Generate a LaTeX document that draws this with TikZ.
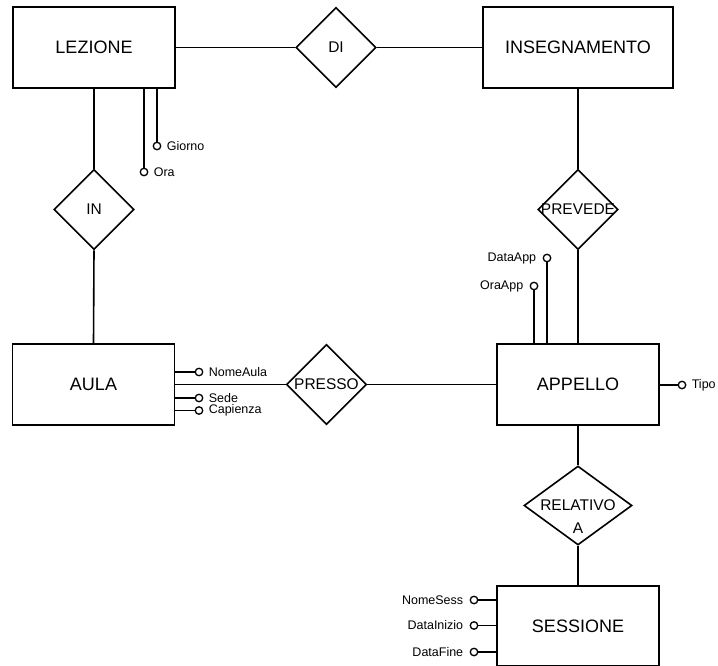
\documentclass[tikz,border=0pt]{standalone}
\usepackage{fontspec}
\setmainfont{Liberation Sans}
\usetikzlibrary{shapes.geometric}
\begin{document}
\begin{tikzpicture}[x=1pt,y=-1pt,
  line width=1.6pt,
  entity/.style={draw, rectangle, minimum width=162pt, minimum height=81pt, inner sep=0pt,
    line width=1.8pt, font=\fontsize{18}{20}\selectfont},
  rel/.style={draw, diamond, minimum width=80pt, minimum height=80pt, inner sep=0pt},
  reltext/.style={font=\fontsize{15.5}{23}\selectfont, inner sep=0pt},
  attr/.style={draw, circle, fill=white, minimum size=7.5pt, inner sep=0pt, line width=1.3pt},
  attrtext/.style={font=\fontsize{12.5}{14}\selectfont, inner sep=0pt},
]
\useasboundingbox (0,0) rectangle (718,666);

% entities
\node[entity] (lezione) at (94,47.5) {LEZIONE};
\node[entity, minimum width=190pt] (insegnamento) at (578,47.5) {INSEGNAMENTO};
\node[entity] (aula) at (93.5,384.5) {AULA};
\node[entity] (appello) at (578,384.5) {APPELLO};
\node[entity, minimum height=80pt] (sessione) at (578,626) {SESSIONE};

% relationships
\node[rel, label={[reltext]center:DI}] (di) at (336,47.5) {};
\node[rel, label={[reltext]center:IN}] (in) at (94,209.5) {};
\node[rel, label={[reltext]center:PREVEDE}] (prevede) at (578,209.5) {};
\node[rel, label={[reltext]center:PRESSO}] (presso) at (326.5,384.5) {};
\node[rel, minimum width=108pt, minimum height=79pt,
      label={[reltext, align=center, yshift=-11.5pt]center:RELATIVO\\A}] (relativo) at (578,505.5) {};

% relationship links
\draw (lezione.east) -- (di.west);
\draw (di.east) -- (insegnamento.west);
\draw (lezione.south) -- (in.north);
\draw (in.south) -- (aula.north);
\draw (insegnamento.south) -- (prevede.north);
\draw (prevede.south) -- (appello.north);
\draw (aula.east) -- (presso.west);
\draw (presso.east) -- (appello.west);
\draw (appello.south) -- (relativo.north);
\draw (relativo.south) -- (sessione.north);

% attributes of LEZIONE
\node[attr] (giorno) at (157,146) {};
\node[attrtext, anchor=west] (giornot) at (166,146) {Giorno};
\node[attr] (ora) at (144,172) {};
\node[attrtext, anchor=west] (orat) at (153,172) {Ora};
\draw (lezione.south -| giorno) -- (giorno);
\draw (lezione.south -| ora) -- (ora);

% attributes of AULA
\node[attr] (nomeaula) at (199,372) {};
\node[attrtext, anchor=west] (nomeaulat) at (208,372) {NomeAula};
\node[attr] (sede) at (199,398) {};
\node[attrtext, anchor=west] (sedet) at (208,398) {Sede};
\node[attr] (capienza) at (199,410.5) {};
\node[attrtext, anchor=west] (capienzat) at (208,410.5) {Capienza};
\draw (aula.east |- nomeaula) -- (nomeaula);
\draw (aula.east |- sede) -- (sede);
\draw (aula.east |- capienza) -- (capienza);

% attributes of APPELLO
\node[attr] (dataapp) at (547,258) {};
\node[attrtext, anchor=east] (dataappt) at (537,258) {DataApp};
\node[attr] (oraapp) at (534,286) {};
\node[attrtext, anchor=east] (oraappt) at (524,286) {OraApp};
\node[attr] (tipo) at (682,385) {};
\node[attrtext, anchor=west] (tipot) at (691,385) {Tipo};
\draw (appello.north -| dataapp) -- (dataapp);
\draw (appello.north -| oraapp) -- (oraapp);
\draw (appello.east |- tipo) -- (tipo);

% attributes of SESSIONE
\node[attr] (nomesess) at (474,600) {};
\node[attrtext, anchor=east] (nomesesst) at (464,600) {NomeSess};
\node[attr] (datainizio) at (474,625.5) {};
\node[attrtext, anchor=east] (datainiziot) at (464,625.5) {DataInizio};
\node[attr] (datafine) at (474,652) {};
\node[attrtext, anchor=east] (datafinet) at (464,652) {DataFine};
\draw (sessione.west |- nomesess) -- (nomesess);
\draw (sessione.west |- datainizio) -- (datainizio);
\draw (sessione.west |- datafine) -- (datafine);
\end{tikzpicture}
\end{document}
